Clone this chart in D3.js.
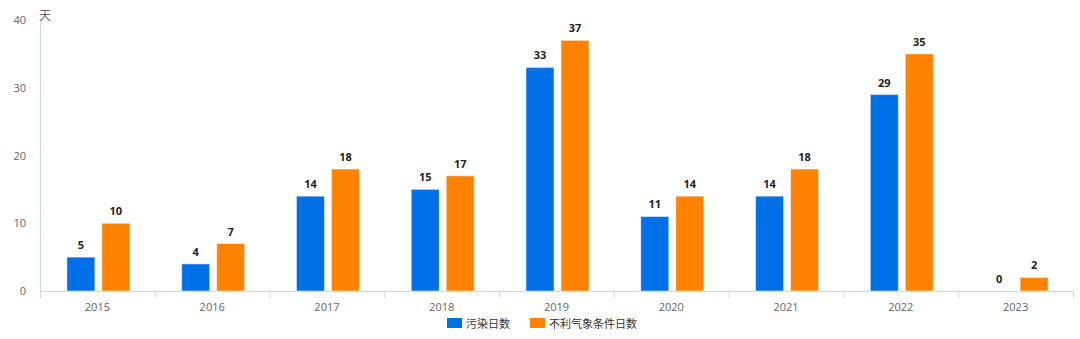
<!DOCTYPE html>
<html>
<head>
<meta charset="utf-8">
<script src="https://cdn.jsdelivr.net/npm/d3@7"></script>
<style>
  html, body { margin: 0; padding: 0; background: #fff; }
  svg { display: block; font-family: "Noto Sans CJK SC", "Noto Sans", sans-serif; }
</style>
</head>
<body>
<svg id="chart" width="1080" height="339"></svg>
<script>
// Yearly counts of polluted days vs. days with unfavourable weather
const years = ["2015", "2016", "2017", "2018", "2019", "2020", "2021", "2022", "2023"];
const pollutionDays = [5, 4, 14, 15, 33, 11, 14, 29, 0];
const badWeatherDays = [10, 7, 18, 17, 37, 14, 18, 35, 2];
const seriesNames = ["污染日数", "不利气象条件日数"];
const seriesColors = ["#0070e8", "#ff8200"];
const yTicks = [0, 10, 20, 30, 40];
const yUnit = "天";

const svg = d3.select("#chart");
const margin = { left: 40, right: 1073, top: 20, bottom: 291 };

const x = d3.scaleBand().domain(years).range([margin.left, margin.right]).padding(0);
const y = d3.scaleLinear().domain([0, 40]).range([margin.bottom, margin.top]);

const barW = 28, barGap = 7;

// y axis
const yAxis = svg.append("g").attr("transform", `translate(${margin.left},0)`)
  .call(d3.axisLeft(y).tickValues(yTicks).tickSize(0).tickPadding(14));
yAxis.select(".domain").attr("stroke", "#ccd6eb");
yAxis.selectAll("text").attr("fill", "#666").style("font-size", "11px")
  .style("font-family", "'Open Sans', 'Noto Sans', sans-serif");

svg.append("text").attr("x", 39).attr("y", 20).attr("fill", "#666")
  .style("font-size", "12px").text(yUnit);

// x axis
const xAxis = svg.append("g").attr("transform", `translate(0,${margin.bottom})`)
  .call(d3.axisBottom(x).tickSize(0).tickPadding(12));
xAxis.select(".domain").attr("stroke", "#ccd6eb");
xAxis.selectAll("text").attr("fill", "#666").style("font-size", "11px")
  .style("font-family", "'Open Sans', 'Noto Sans', sans-serif");
// category boundary ticks
const bounds = years.map(d => x(d)).concat([margin.right]);
xAxis.selectAll(".bound").data(bounds).enter().append("line")
  .attr("x1", d => d + 0.5).attr("x2", d => d + 0.5)
  .attr("y1", 0).attr("y2", 7).attr("stroke", "#ccd6eb");

// bars
const series = [pollutionDays, badWeatherDays];
series.forEach((vals, si) => {
  const g = svg.append("g");
  const offset = si === 0 ? -(barW + barGap / 2) : barGap / 2;
  const xc = d => x(d) + x.bandwidth() / 2 + 1 + offset;
  g.selectAll("rect").data(years).enter().append("rect")
    .attr("x", d => xc(d))
    .attr("y", (d, i) => y(vals[i]))
    .attr("width", barW)
    .attr("height", (d, i) => y(0) - y(vals[i]))
    .attr("fill", seriesColors[si])
    .attr("stroke", "#fff").attr("stroke-opacity", 0.5).attr("stroke-width", 1);
  g.selectAll("text").data(years).enter().append("text")
    .attr("x", d => xc(d) + barW / 2)
    .attr("y", (d, i) => y(vals[i]) - 8)
    .attr("text-anchor", "middle")
    .attr("fill", "#222")
    .style("font-size", "11px").style("font-weight", "bold")
    .style("font-family", "'Open Sans', 'Noto Sans', sans-serif")
    .text((d, i) => vals[i]);
});

// legend
const legendItems = [{ x: 447, tx: 466 }, { x: 530, tx: 549 }];
legendItems.forEach((it, i) => {
  svg.append("rect").attr("x", it.x).attr("y", 318).attr("width", 15).attr("height", 10)
    .attr("fill", seriesColors[i]);
  svg.append("text").attr("x", it.tx).attr("y", 327.5).attr("fill", "#333")
    .style("font-size", "11px").text(seriesNames[i]);
});
</script>
</body>
</html>
